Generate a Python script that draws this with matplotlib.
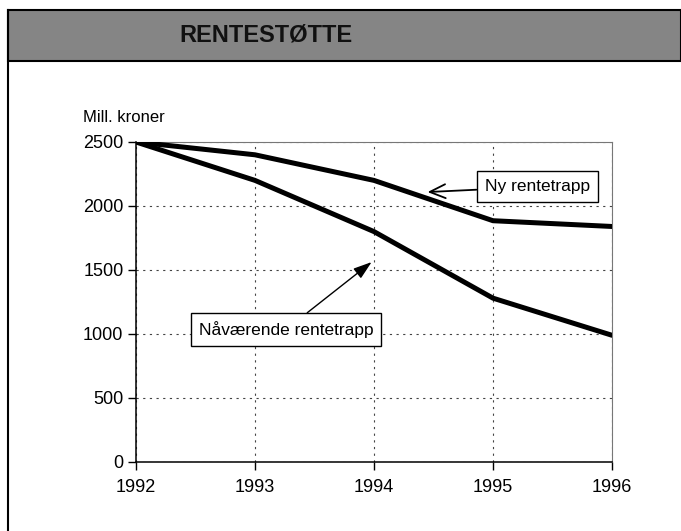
import matplotlib.pyplot as plt
from matplotlib.patches import Rectangle
from matplotlib.lines import Line2D

plt.rcParams["font.family"] = ["Liberation Sans", "DejaVu Sans"]

years = [1992, 1993, 1994, 1995, 1996]
ny_rentetrapp = [2500, 2400, 2200, 1885, 1840]
naavaerende = [2500, 2200, 1800, 1280, 990]
y_ticks = [0, 500, 1000, 1500, 2000, 2500]

W, H = 681, 531
fig = plt.figure(figsize=(W / 100, H / 100), dpi=100)
fig.patch.set_facecolor("white")

# header banner + left frame line
fig.patches.append(Rectangle((8 / W, 1 - 61 / H), 1 - 8 / W, 51 / H,
                             transform=fig.transFigure, facecolor="#858585",
                             edgecolor="black", lw=1.5))
fig.text(266 / W, 1 - 35 / H, "RENTESTØTTE", ha="center", va="center",
         fontsize=17, fontweight="bold", color="#111111",
         family=["DejaVu Sans Condensed", "Liberation Sans"], fontstretch="condensed")
fig.lines.append(Line2D([8 / W, 8 / W], [0, 1 - 10 / H], transform=fig.transFigure,
                        color="black", lw=1.5))

ax = fig.add_axes([136 / W, 1 - 462 / H, (612 - 136) / W, (462 - 142) / H])
ax.plot(years, ny_rentetrapp, color="black", lw=3.6, solid_capstyle="round", zorder=3)
ax.plot(years, naavaerende, color="black", lw=3.6, solid_capstyle="round", zorder=3)

ax.set_xlim(1992, 1996)
ax.set_ylim(0, 2500)
ax.set_xticks(years)
ax.set_yticks(y_ticks)
ax.grid(True, color="#444444", lw=0.8, ls=(0, (2, 4)))
ax.tick_params(labelsize=13, length=6, width=1, direction="out")
ax.tick_params(axis="x", pad=6)
ax.tick_params(axis="y", pad=3)
for s in ("top", "right"):
    ax.spines[s].set_color("#777777")
    ax.spines[s].set_linewidth(0.8)
for s in ("left", "bottom"):
    ax.spines[s].set_linewidth(1.1)

ax.text(-53 / 476, 344 / 320, "Mill. kroner", transform=ax.transAxes,
        fontsize=12, ha="left", va="center")

box = dict(boxstyle="square,pad=0.45", facecolor="white", edgecolor="black", lw=1)
ax.annotate("Ny rentetrapp", xy=(1994.45, 2109), xytext=(1994.93, 2150),
            fontsize=12.5, ha="left", va="center", bbox=box,
            arrowprops=dict(arrowstyle="->,head_length=0.9,head_width=0.4",
                            color="black", lw=1.3, shrinkA=0, shrinkB=0))
ax.annotate("Nåværende rentetrapp", xy=(1993.98, 1562), xytext=(1993.26, 1035),
            fontsize=12.5, ha="center", va="center", bbox=box,
            arrowprops=dict(arrowstyle="-|>,head_length=0.9,head_width=0.3",
                            color="black", lw=1.0, shrinkA=0, shrinkB=0))

fig.savefig("out.png", dpi=100, facecolor="white")
